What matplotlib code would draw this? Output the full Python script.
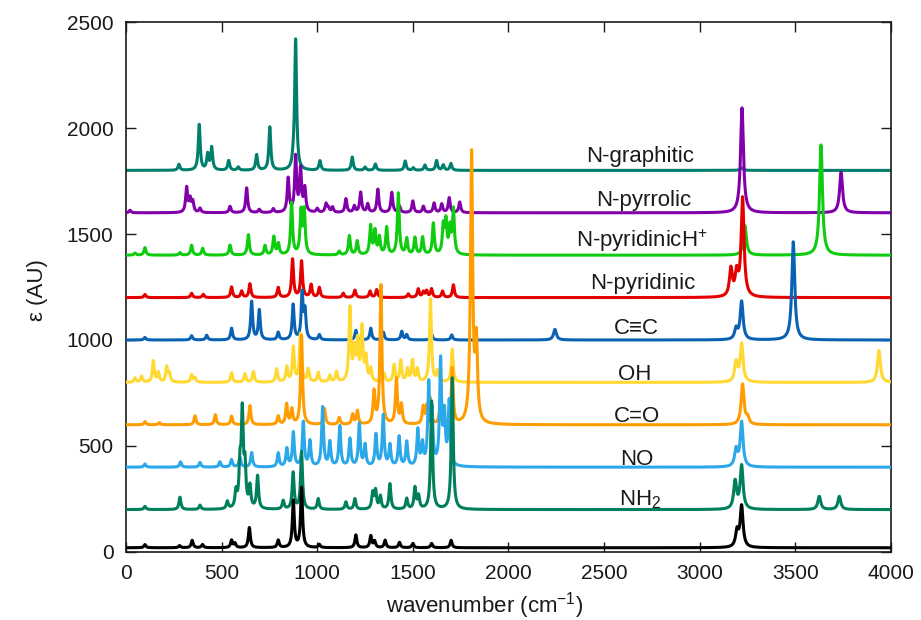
import numpy as np
import matplotlib
matplotlib.use('Agg')
import matplotlib.pyplot as plt

plt.rcParams['font.family'] = ['Liberation Sans', 'DejaVu Sans']
plt.rcParams['mathtext.fontset'] = 'custom'
plt.rcParams['mathtext.rm'] = 'Liberation Sans'
plt.rcParams['mathtext.it'] = 'Liberation Sans:italic'

# ---- data: peak lists (wavenumber, intensity above the series offset) ----
names = ['N-graphitic', 'N-pyrrolic', 'N-pyridinicH$^{+}$', 'N-pyridinic', 'C\u2261C',
         'OH', 'C=O', 'NO', 'NH$_2$', 'pristine']
offsets = [1800, 1600, 1400, 1200, 1000, 800, 600, 400, 200, 20]
colors = ['#00806c', '#8200aa', '#10cc10', '#e40000', '#0a62b4',
          '#ffd832', '#ff9d00', '#2ba8ea', '#007f5c', '#000000']

graphitic_peaks = [(277, 28), (383, 215), (427, 73), (448, 106), (537, 46), (587, 15),
                   (683, 73), (752, 204), (875, 30), (887, 614), (1014, 45), (1183, 63),
                   (1250, 15), (1304, 30), (1460, 44), (1502, 12), (1563, 25), (1624, 46),
                   (1659, 25), (1699, 32), (3220, 12)]
pyrrolic_peaks = [(21, 12), (317, 117), (335, 60), (349, 50), (387, 20), (544, 30),
                  (631, 117), (697, 15), (770, 18), (848, 160), (887, 260), (913, 200),
                  (935, 110), (1000, 18), (1046, 40), (1058, 20), (1080, 25), (1150, 65),
                  (1194, 30), (1227, 95), (1264, 40), (1317, 110), (1390, 95), (1430, 30),
                  (1500, 55), (1555, 30), (1611, 45), (1651, 40), (1690, 70), (1745, 50),
                  (3221, 495), (3739, 191)]
pyridinicH_peaks = [(47, 10), (99, 36), (282, 12), (343, 47), (401, 32), (544, 47),
                    (640, 96), (727, 44), (773, 85), (797, 52), (866, 245), (915, 200),
                    (932, 205), (1115, 17), (1168, 90), (1209, 65), (1279, 135), (1302, 110),
                    (1325, 80), (1363, 128), (1424, 290), (1468, 75), (1511, 80), (1551, 82),
                    (1607, 147), (1659, 130), (1673, 150), (1694, 120), (1712, 210),
                    (3236, 140), (3634, 520)]
pyridinic_peaks = [(99, 15), (343, 20), (404, 15), (552, 50), (605, 30), (648, 65),
                   (796, 47), (871, 180), (918, 170), (968, 60), (1011, 47), (1136, 20),
                   (1197, 35), (1276, 30), (1311, 37), (1476, 17), (1528, 40), (1555, 25),
                   (1572, 30), (1598, 40), (1655, 30), (1712, 60), (3163, 130), (3193, 105),
                   (3224, 465)]
cc_peaks = [(99, 12), (343, 20), (422, 22), (552, 55), (657, 180), (697, 140), (796, 35),
            (874, 165), (921, 215), (936, 130), (1011, 24), (1202, 45), (1280, 55),
            (1346, 36), (1442, 40), (1468, 24), (1598, 28), (1703, 24), (2243, 50),
            (3190, 50), (3219, 180), (3489, 463)]
oh_peaks = [(47, 20), (82, 28), (143, 100), (169, 45), (213, 70), (227, 40), (343, 35),
            (361, 20), (552, 45), (622, 40), (666, 50), (788, 62), (841, 70), (875, 163),
            (912, 226), (953, 60), (1005, 45), (1066, 30), (1101, 47), (1171, 345),
            (1194, 140), (1211, 180), (1234, 250), (1255, 110), (1280, 60), (1350, 40),
            (1402, 80), (1437, 100), (1472, 60), (1498, 100), (1524, 60), (1592, 392),
            (1629, 50), (1706, 155), (3190, 92), (3219, 179), (3937, 150)]
co_peaks = [(99, 15), (175, 10), (361, 42), (467, 47), (552, 40), (648, 90), (796, 40),
            (840, 95), (867, 70), (918, 420), (1038, 75), (1115, 33), (1185, 47),
            (1210, 63), (1297, 150), (1333, 655), (1414, 213), (1440, 90), (1554, 80),
            (1573, 75), (1590, 118), (1640, 55), (1706, 261), (1807, 1270), (1832, 365),
            (3224, 190), (3250, 30)]
no_peaks = [(99, 15), (285, 25), (387, 22), (491, 25), (552, 35), (596, 45), (657, 68),
            (796, 65), (841, 85), (875, 161), (927, 209), (962, 120), (1028, 280),
            (1066, 115), (1118, 190), (1171, 130), (1220, 200), (1250, 100), (1307, 150),
            (1345, 240), (1380, 100), (1428, 140), (1468, 115), (1526, 170), (1550, 100),
            (1583, 374), (1600, 240), (1645, 492), (1665, 230), (1690, 300),
            (3190, 80), (3219, 210)]
nh2_peaks = [(99, 15), (282, 58), (387, 20), (530, 35), (575, 75), (596, 185), (608, 432),
             (622, 185), (648, 100), (688, 155), (822, 40), (874, 172), (918, 270),
             (1005, 50), (1150, 35), (1197, 50), (1290, 75), (1305, 85), (1330, 60),
             (1380, 120), (1468, 50), (1511, 100), (1530, 60), (1598, 510), (1706, 620),
             (3185, 130), (3219, 204), (3625, 62), (3730, 62)]
pristine_peaks = [(99, 15), (280, 10), (346, 35), (400, 15), (552, 35), (570, 20),
                  (645, 95), (796, 35), (875, 220), (918, 281), (1011, 15), (1202, 60),
                  (1280, 55), (1300, 30), (1355, 35), (1430, 25), (1500, 20), (1598, 20),
                  (1700, 35), (3195, 75), (3219, 194)]

all_peaks = [graphitic_peaks, pyrrolic_peaks, pyridinicH_peaks, pyridinic_peaks, cc_peaks,
             oh_peaks, co_peaks, no_peaks, nh2_peaks, pristine_peaks]

label_x = [2690, 2705, 2695, 2702, 2670, 2660, 2670, 2673, 2686]
label_y = [1841, 1631, 1441, 1239, 1026, 813, 612, 411, 222]

xticks = [0, 500, 1000, 1500, 2000, 2500, 3000, 3500, 4000]
yticks = [0, 500, 1000, 1500, 2000, 2500]

# ---- spectra: Lorentzian broadening of the stick spectra ----
wn = np.arange(0, 4000.25, 0.5)


def spectrum(peaks):
    y = np.zeros_like(wn)
    for pos, amp in peaks:
        g = 6.0 if pos < 1780 else (7.0 if pos < 2000 else 9.0)
        y += amp * g ** 2 / ((wn - pos) ** 2 + g ** 2)
    return y


fig = plt.figure(figsize=(9.21, 6.2), dpi=100)
ax = fig.add_axes([0.1368, 0.1097, 0.8306, 0.8548])

for i, (peaks, off, col) in enumerate(zip(all_peaks, offsets, colors)):
    ax.plot(wn, off + spectrum(peaks), color=col, lw=2.2, zorder=2 + i,
            solid_joinstyle='round')

for name, lx, ly in zip(names[:-1], label_x, label_y):
    ax.text(lx, ly, name, ha='center', va='baseline', fontsize=16, color='#1a1a1a',
            zorder=20)

ax.set_xlim(0, 4000)
ax.set_ylim(0, 2500)
ax.set_xticks(xticks)
ax.set_yticks(yticks)
ax.tick_params(direction='in', top=True, right=True, length=7, width=1.0,
               labelsize=15, pad=9, colors='#1a1a1a')
for s in ax.spines.values():
    s.set_linewidth(1.2)
    s.set_color('#1a1a1a')

fig.text(38 / 921, 1 - 290 / 620, '\u03b5 (AU)', rotation=90, ha='center', va='center',
         fontsize=16, color='#1a1a1a')
fig.text(485 / 921, 1 - 606 / 620, 'wavenumber (cm$^{-1}$)', ha='center', va='center',
         fontsize=16, color='#1a1a1a')

fig.savefig('out.png', dpi=100)
